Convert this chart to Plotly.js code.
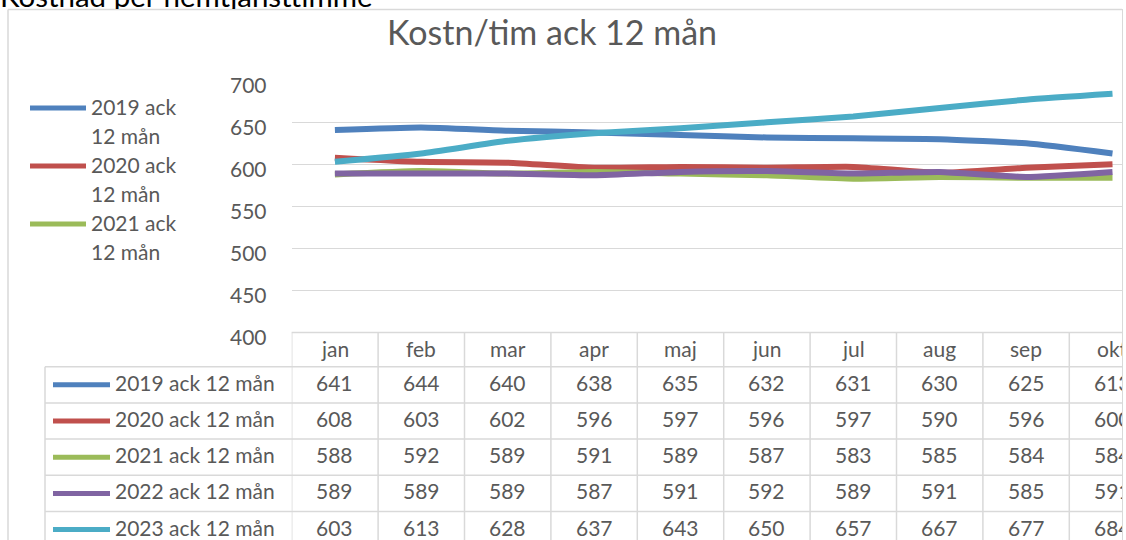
<!DOCTYPE html>
<html><head><meta charset="utf-8">
<script src="https://cdn.plot.ly/plotly-3.0.1.min.js"></script>
<style>
html,body{margin:0;padding:0;background:#fff;overflow:hidden}
#wrap{position:relative;width:1126px;height:540px}
#sheet{position:absolute;left:0;top:0;width:1126px;height:9px;overflow:hidden}
#sheet span{position:absolute;left:0;top:-19.5px;font-family:Lato,sans-serif;font-size:29.5px;line-height:30px;color:#000;white-space:nowrap}
#chart{position:absolute;left:0;top:0;width:1126px;height:540px}
#edge{position:absolute;left:1122px;top:9px;width:4px;height:531px;background:#fff;border-left:1.5px solid #d9d9d9;box-sizing:border-box}
</style>
</head><body>
<div id="wrap">
<div id="chart"></div>
<div id="sheet"><span>Kostnad per hemtjänsttimme</span></div>
<div id="edge"></div>
</div>
<script>
// ---- data ----
const months = ['jan','feb','mar','apr','maj','jun','jul','aug','sep','okt'];
const seriesNames = ['2019 ack 12 mån','2020 ack 12 mån','2021 ack 12 mån','2022 ack 12 mån','2023 ack 12 mån'];
const v2019 = [641,644,640,638,635,632,631,630,625,613];
const v2020 = [608,603,602,596,597,596,597,590,596,600];
const v2021 = [588,592,589,591,589,587,583,585,584,584];
const v2022 = [589,589,589,587,591,592,589,591,585,591];
const v2023 = [603,613,628,637,643,650,657,667,677,684];
const yTicks = [400,450,500,550,600,650,700];
const chartTitle = 'Kostn/tim ack 12 mån';
const legendShown = 3; // legend entries visible in the clipped legend box

// ---- style ----
const series = [v2019,v2020,v2021,v2022,v2023];
const colors = ['#4F81BD','#C0504D','#9BBB59','#8064A2','#4BACC6'];
const W = 1126, H = 540;
const FONT = 'Lato, sans-serif';
const TXT = '#595959';
const GRID = '#d9d9d9';
const fs = 21;
const px = x => x / W;
const py = y => 1 - y / H;

const plotL = 291.7, plotR = 1122, plotT = 80.3, plotB = 332.5;
const colW = 86.4;
const xMax = (plotR - plotL) / colW - 0.5;

const traces = series.map((vals, i) => ({
  type: 'scatter', mode: 'lines', x: months.map((m, j) => j), y: vals,
  name: seriesNames[i], showlegend: false, hoverinfo: 'skip',
  line: {color: colors[i], width: 6, shape: 'spline', smoothing: 0.5}
}));

const shapes = [];
const annotations = [];
const gl = {color: GRID, width: 1.5};
const txt = (x, y, text, xref, xanchor, size) => annotations.push({xref: xref || 'paper', yref: 'paper',
  x: x, y: y, xanchor: xanchor || 'center', yanchor: 'middle', text: text, showarrow: false,
  font: {family: FONT, size: size || fs, color: TXT}});

// chart frame
shapes.push({type:'line', xref:'paper', yref:'paper', x0:px(8), x1:px(1122), y0:py(9.5), y1:py(9.5), line:gl});
shapes.push({type:'line', xref:'paper', yref:'paper', x0:px(8), x1:px(8), y0:py(9.5), y1:py(540), line:gl});

// title
txt(px(552), py(32), chartTitle, 'paper', 'center', 34);

// legend (top-left, clipped to first entries)
for (let i = 0; i < legendShown; i++) {
  const ly = 108 + i * 58;
  shapes.push({type:'line', xref:'paper', yref:'paper', x0:px(30), x1:px(86), y0:py(ly), y1:py(ly),
    line:{color: colors[i], width:5}});
  const words = seriesNames[i].split(' ');
  txt(px(89), py(ly - 2), words.slice(0,2).join(' '), 'paper', 'left');
  txt(px(89), py(ly + 27), words.slice(2).join(' '), 'paper', 'left');
}

// data table
const headTop = 332.5, headBot = 366.7, rowH = 36.2;
shapes.push({type:'line', xref:'paper', yref:'paper', x0:px(plotL), x1:px(plotR), y0:py(headTop), y1:py(headTop), line:gl});
for (let r = 0; r <= series.length; r++) {
  const y = headBot + r * rowH;
  if (y > H) break;
  shapes.push({type:'line', xref:'paper', yref:'paper', x0:px(45), x1:px(plotR), y0:py(y), y1:py(y), line:gl});
}
shapes.push({type:'line', xref:'paper', yref:'paper', x0:px(45), x1:px(45), y0:py(headBot), y1:py(H), line:gl});
for (let j = 0; j <= months.length; j++) {
  shapes.push({type:'line', xref:'x', yref:'paper', x0:j - 0.5, x1:j - 0.5, y0:py(headTop), y1:py(H), line:gl});
}
months.forEach((m, j) => txt(j, py((headTop + headBot) / 2 - 1.5), m, 'x', 'center'));
series.forEach((vals, i) => {
  const cy = headBot + i * rowH + rowH / 2;
  shapes.push({type:'line', xref:'paper', yref:'paper', x0:px(53), x1:px(110), y0:py(cy), y1:py(cy),
    line:{color: colors[i], width:5}});
  txt(px(113), py(cy - 2.5), seriesNames[i], 'paper', 'left');
  vals.forEach((v, j) => txt(j, py(cy - 2.5), String(v), 'x', 'center'));
});

const layout = {
  width: W, height: H,
  margin: {l:0, r:0, t:0, b:0, pad:0},
  paper_bgcolor: 'rgba(0,0,0,0)', plot_bgcolor: 'rgba(0,0,0,0)',
  showlegend: false,
  xaxis: {domain:[px(plotL), px(plotR)], range:[-0.5, xMax], showticklabels:false, showgrid:false,
    zeroline:false, showline:false, ticks:'', fixedrange:true},
  yaxis: {domain:[py(plotB), py(plotT)], range:[400, 700], tickvals:yTicks, ticktext:yTicks.map(String),
    showgrid:true, gridcolor:GRID, gridwidth:1.5, zeroline:false, showline:false,
    ticks:'outside', ticklen:20, tickcolor:'rgba(0,0,0,0)', ticklabelshift:5,
    tickfont:{family:FONT, size:fs, color:TXT}, fixedrange:true},
  shapes: shapes, annotations: annotations
};
Plotly.newPlot('chart', traces, layout, {staticPlot:true, displayModeBar:false});
</script>
</body></html>
